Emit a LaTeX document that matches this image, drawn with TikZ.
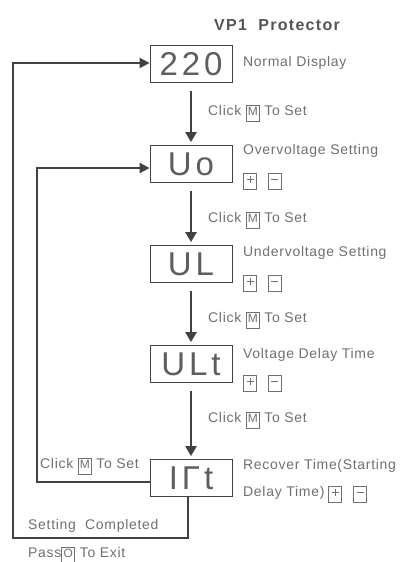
\documentclass[tikz,border=0pt]{standalone}
\usepackage{fontspec}
\setmainfont{Liberation Sans}
\newfontfamily\notefont[LetterSpace=5]{Liberation Sans}
\newfontfamily\titlefont[LetterSpace=8]{Liberation Sans}
\newfontfamily\segfont[LetterSpace=12]{Liberation Sans}
\usetikzlibrary{positioning,arrows.meta}

\definecolor{linegray}{HTML}{424242}
\definecolor{textgray}{HTML}{707070}

\setlength{\fboxsep}{1.5pt}
\setlength{\fboxrule}{0.9pt}
\newcommand{\keycap}[1]{\fbox{\fontsize{12}{12}\selectfont\makebox[9pt]{\strut #1}}}
\newcommand{\pluskey}{\keycap{\rule[3.6pt]{7pt}{0.9pt}\hspace{-3.95pt}\rule[0.5pt]{0.9pt}{7pt}\hspace{3.05pt}}}
\newcommand{\minuskey}{\keycap{\rule[3.6pt]{7pt}{0.9pt}}}

\tikzset{
	display/.style={draw=linegray, line width=0.8pt, minimum width=82pt, minimum height=37pt, inner sep=0pt, text=linegray!85, font=\segfont\fontsize{33}{33}\selectfont},
	note/.style={anchor=west, inner sep=0pt, text=textgray, font=\notefont\fontsize{14}{16}\selectfont},
	flow/.style={draw=linegray, line width=2.6pt, -{Triangle[length=10pt,width=11pt]}, shorten <=8pt, shorten >=3pt},
	loopline/.style={draw=linegray, line width=1.9pt},
}

\begin{document}
\begin{tikzpicture}[x=1pt, y=-1pt]

	\useasboundingbox (0,0) rectangle (409,562);

	% title
	\node[text=linegray!90, font=\titlefont\bfseries\fontsize{16}{18}\selectfont] (title) at (277,25) {VP1\ \ Protector};

	% displays
	\node[display] (disp220) at (191,64) {220};
	\node[display] (dispUo) at (191,164) {Uo};
	\node[display] (dispUL) at (191,264) {UL};
	\node[display] (dispULt) at (191,364) {ULt};
	\node[display] (dispIrt) at (191,478) {IΓt};

	% texts beside the displays
	\node[note] (txt220) at (243,63) {Normal Display};
	\node[note] (txtUo) at (243,151) {Overvoltage Setting};
	\node[note] (keyUo) at (243,181) {\pluskey\hspace{11pt}\minuskey};
	\node[note] (txtUL) at (243,253) {Undervoltage Setting};
	\node[note] (keyUL) at (243,283) {\pluskey\hspace{11pt}\minuskey};
	\node[note] (txtULt) at (243,355) {Voltage Delay Time};
	\node[note] (keyULt) at (243,383) {\pluskey\hspace{11pt}\minuskey};
	\node[note] (txtIrt) at (243,466) {Recover Time(Starting};
	\node[note] (keyIrt) at (243,494) {Delay Time)\hspace{4pt}\pluskey\hspace{11pt}\minuskey};

	% steps down
	\draw[flow] (disp220) -- (dispUo);
	\draw[flow] (dispUo) -- (dispUL);
	\draw[flow] (dispUL) -- (dispULt);
	\draw[flow] (dispULt) -- (dispIrt);

	\node[note] (click1) at (208,113) {Click \keycap{M} To Set};
	\node[note] (click2) at (208,220) {Click \keycap{M} To Set};
	\node[note] (click3) at (208,320) {Click \keycap{M} To Set};
	\node[note] (click4) at (208,420) {Click \keycap{M} To Set};

	% back to overvoltage
	\coordinate (innerleft) at (37,482);
	\draw[loopline, -{Triangle[length=10pt,width=10pt]}] ([yshift=-4pt]dispIrt.west) -- (innerleft) |- ([yshift=-4pt]dispUo.west);
	\node[note, fill=white, inner sep=1pt] (clickback) at (39,466) {Click \keycap{M} To Set};

	% back to normal display
	\coordinate (outerleft) at (13,538);
	\draw[loopline, -{Triangle[length=10pt,width=10pt]}] ([xshift=-3pt]dispIrt.south) |- (outerleft) |- ([yshift=1pt]disp220.west);
	\node[note] (done) at (28,526) {Setting\ \ Completed};
	\node[note] (exit) at (28,555) {Pass\keycap{O} To Exit};

\end{tikzpicture}
\end{document}
